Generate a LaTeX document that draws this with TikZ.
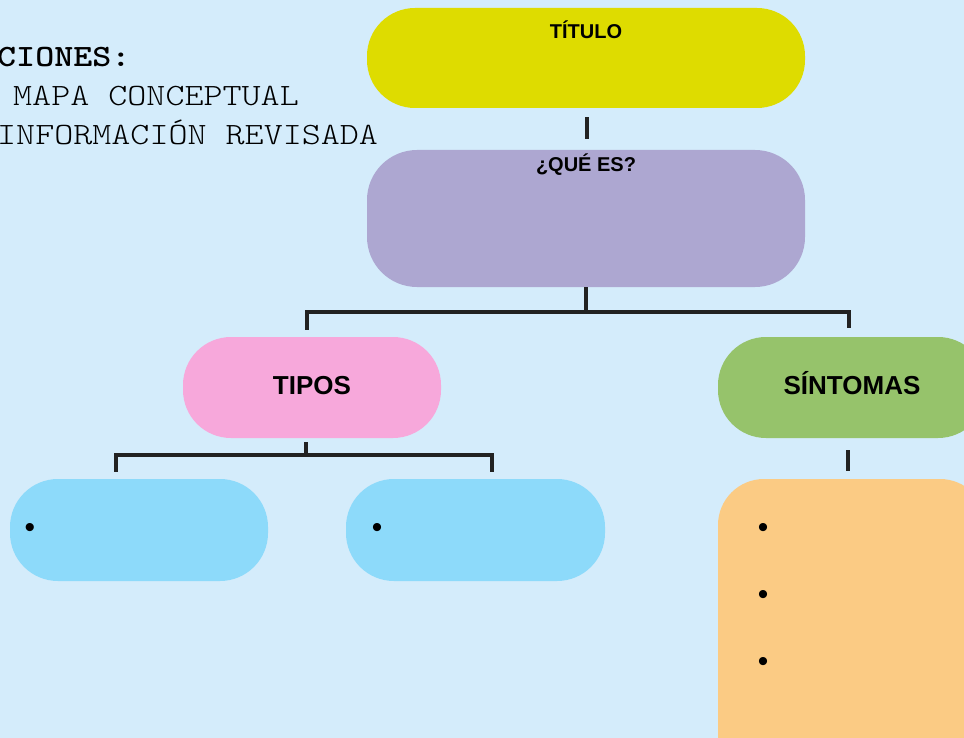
\documentclass[tikz,border=0pt]{standalone}
\usepackage{fontspec}
\setmainfont{Liberation Sans}
\newfontfamily\monofont[FakeStretch=1.17]{Latin Modern Mono Light}
\usetikzlibrary{calc}
\definecolor{bgc}{RGB}{212,236,251}
\definecolor{yelc}{RGB}{222,220,0}
\definecolor{purc}{RGB}{173,167,209}
\definecolor{pinkc}{RGB}{247,168,219}
\definecolor{greenc}{RGB}{150,195,107}
\definecolor{bluec}{RGB}{141,218,250}
\definecolor{orac}{RGB}{251,203,132}
\definecolor{linec}{RGB}{34,34,34}
\begin{document}
\begin{tikzpicture}[x=1pt,y=-1pt,
  box/.style={rectangle,rounded corners=48pt,inner sep=0pt,draw=none},
  conn/.style={line width=4.6pt,draw=linec},
  lblsmall/.style={font=\bfseries\fontsize{20}{24}\selectfont,inner sep=0pt,anchor=base},
  lblbig/.style={font=\bfseries\fontsize{26}{30}\selectfont,inner sep=0pt,anchor=base},
  bul/.style={font=\fontsize{30}{34}\selectfont,inner sep=0pt,anchor=base},
  mono/.style={font=\monofont\fontsize{31}{36}\selectfont,inner sep=0pt,anchor=base west}]
\useasboundingbox (0,0) rectangle (964,738);
\fill[bgc] (0,0) rectangle (964,738);
\clip (0,0) rectangle (964,738);
% instructions
\node[mono,font=\monofont\bfseries\fontsize{31}{36}\selectfont] (ins1) at (-3,67) {CIONES:};
\node[mono] (ins2) at (13,106) {MAPA CONCEPTUAL};
\node[mono] (ins3) at (-3,145) {INFORMACIÓN REVISADA};
% boxes
\node[box,fill=yelc,minimum width=438pt,minimum height=100pt] (title) at (586,58) {};
\node[box,fill=purc,rounded corners=50pt,minimum width=438pt,minimum height=137pt] (qes) at (586,218.5) {};
\node[box,fill=pinkc,minimum width=258pt,minimum height=101pt] (tipos) at (312,387.5) {};
\node[box,fill=greenc,minimum width=268pt,minimum height=101pt] (sint) at (852,387.5) {};
\node[box,fill=bluec,minimum width=258pt,minimum height=102pt] (blue1) at (139,530) {};
\node[box,fill=bluec,minimum width=259pt,minimum height=102pt] (blue2) at (475.5,530) {};
\node[box,fill=orac,rounded corners=46pt,minimum width=268pt,minimum height=320pt] (orange) at (852,639) {};
% labels
\node[lblsmall] (titletxt) at ($(title.north)+(0,31)$) {TÍTULO};
\node[lblsmall] (qestxt) at ($(qes.north)+(0,22)$) {¿QUÉ ES?};
\node[lblbig] (tipostxt) at ($(tipos.north)+(0,58)$) {TIPOS};
\node[lblbig] (sinttxt) at ($(sint.north)+(0,58)$) {SÍNTOMAS};
% bullets
\node[bul] (b1) at (30,537) {•};
\node[bul] (b2) at (377,537) {•};
\node[bul] (b3) at (763,537) {•};
\node[bul] (b4) at (763,604) {•};
\node[bul] (b5) at (763,671) {•};
% connectors
\draw[conn] ($(title.south)+(1,9)$) -- ($(qes.north)+(1,-11)$);
\draw[conn] (qes.south) -- ($(qes.south)+(0,25)$);
\draw[conn] ($(tipos.north)+(-5,-7)$) |- ($(sint.north)+(-3,-25)$) -- ($(sint.north)+(-3,-9)$);
\draw[conn] ($(tipos.south)+(-6,4)$) -- ($(tipos.south)+(-6,17)$);
\draw[conn] ($(blue1.north)+(-23,-7)$) |- ($(blue2.north)+(16.5,-24)$) -- ($(blue2.north)+(16.5,-7)$);
\draw[conn] ($(sint.south)+(-4,12)$) -- ($(orange.north)+(-4,-8)$);
\end{tikzpicture}
\end{document}
